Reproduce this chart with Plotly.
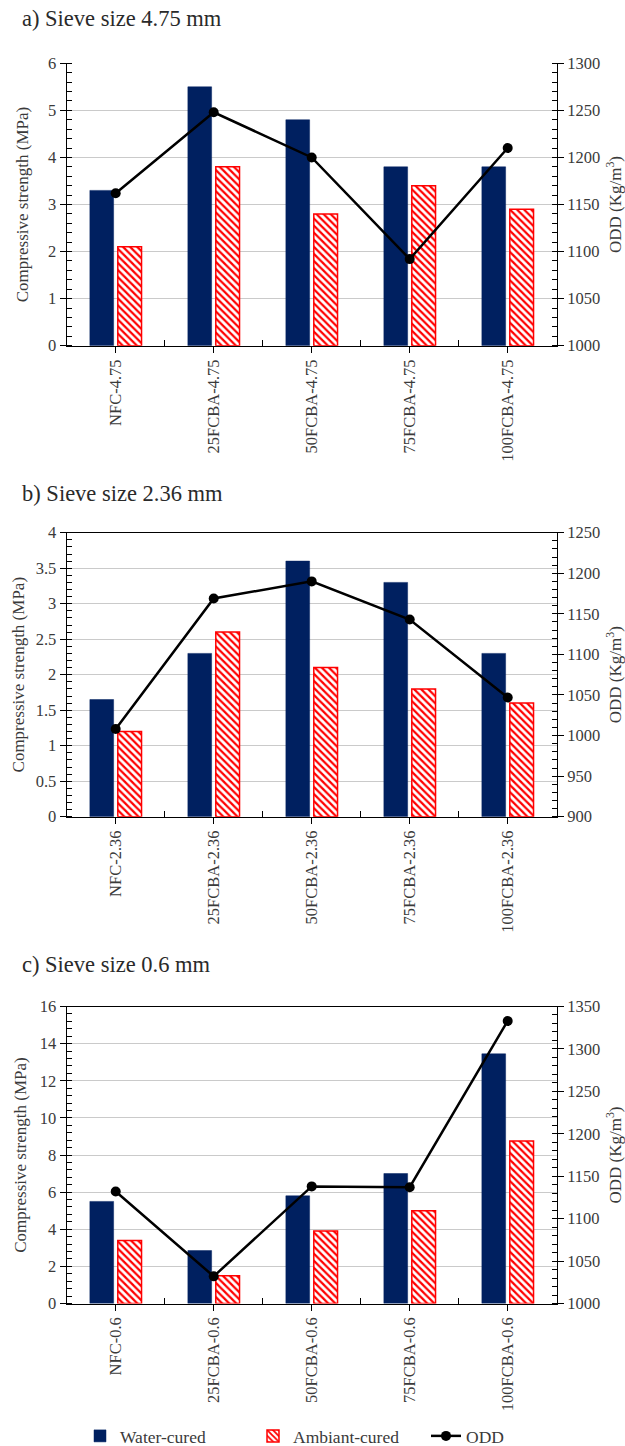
import plotly.graph_objects as go

W, H = 625, 1446

# ---- data -------------------------------------------------------------
categories_475 = ["NFC-4.75", "25FCBA-4.75", "50FCBA-4.75", "75FCBA-4.75", "100FCBA-4.75"]
water_475 = [3.3, 5.5, 4.8, 3.8, 3.8]
ambient_475 = [2.1, 3.8, 2.8, 3.4, 2.9]
odd_475 = [1162, 1248, 1200, 1092, 1210]

categories_236 = ["NFC-2.36", "25FCBA-2.36", "50FCBA-2.36", "75FCBA-2.36", "100FCBA-2.36"]
water_236 = [1.65, 2.3, 3.6, 3.3, 2.3]
ambient_236 = [1.2, 2.6, 2.1, 1.8, 1.6]
odd_236 = [1008, 1169, 1190, 1143, 1047]

categories_06 = ["NFC-0.6", "25FCBA-0.6", "50FCBA-0.6", "75FCBA-0.6", "100FCBA-0.6"]
water_06 = [5.5, 2.85, 5.8, 7.0, 13.45]
ambient_06 = [3.4, 1.5, 3.9, 5.0, 8.75]
odd_06 = [1132, 1032, 1138, 1137, 1333]

titles = ["a) Sieve size 4.75 mm", "b) Sieve size 2.36 mm", "c) Sieve size 0.6 mm"]
series_names = ["Water-cured", "Ambiant-cured", "ODD"]

# ---- styling / layout ---------------------------------------------------
FONT = "Liberation Serif, DejaVu Serif, serif"
TXT = "#3a3a3a"
NAVY = "#002060"
RED = "#ff0000"
GRID = "#cacaca"

X0, X1 = 66.7, 556.7            # plot area left/right (px)
panel_boxes = [(63.3, 345.7), (532.7, 816.7), (1006.5, 1303.5)]   # top/bottom (px)
title_y = [19, 493, 964]
left_axes = [dict(range=[0, 6], dtick=1, minor=0.2, standoff=15),
             dict(range=[0, 4], dtick=0.5, minor=0.1, standoff=6),
             dict(range=[0, 16], dtick=2, minor=0.4, standoff=8)]
right_axes = [dict(range=[1000, 1300]), dict(range=[900, 1250]), dict(range=[1000, 1350])]
top_border = [False, True, True]

datasets = [
    (categories_475, water_475, ambient_475, odd_475),
    (categories_236, water_236, ambient_236, odd_236),
    (categories_06, water_06, ambient_06, odd_06),
]


def fx(px):
    return px / W


def fy(py):
    return 1 - py / H


def axname(n):
    return "" if n == 1 else str(n)


fig = go.Figure()
layout = {}
annotations = []

for i, (cats, water, ambient, odd) in enumerate(datasets):
    na, nb = 2 * i + 1, 2 * i + 2
    xa, xb = "x" + axname(na), "x" + axname(nb)
    ya, yb = "y" + axname(na), "y" + axname(nb)
    show = i == 0

    fig.add_trace(go.Bar(
        x=cats, y=water, name=series_names[0], xaxis=xa, yaxis=ya,
        marker=dict(color=NAVY, line=dict(color=NAVY, width=0.5)),
        showlegend=show, legendrank=1,
    ))
    fig.add_trace(go.Bar(
        x=cats, y=ambient, name=series_names[1], xaxis=xa, yaxis=ya,
        marker=dict(color="white", line=dict(color=RED, width=1.5),
                    pattern=dict(shape="\\", fgcolor=RED, bgcolor="white",
                                 size=5, solidity=0.45, fillmode="replace")),
        showlegend=show, legendrank=2,
    ))
    fig.add_trace(go.Scatter(
        x=cats, y=odd, name=series_names[2], xaxis=xb, yaxis=yb,
        mode="lines+markers",
        line=dict(color="black", width=2.5),
        marker=dict(color="black", size=10),
        showlegend=show, legendrank=3,
    ))

    top, bottom = panel_boxes[i]
    ydom = [fy(bottom), fy(top)]
    tickfont = dict(family=FONT, size=16.5, color=TXT)
    titlefont = dict(family=FONT, size=17, color=TXT)

    layout["xaxis" + axname(na)] = dict(
        domain=[fx(X0), fx(X1)], anchor=ya, type="category",
        categoryorder="array", categoryarray=cats, range=[-0.5, 4.5],
        showline=True, linecolor="black", linewidth=1.3, mirror=top_border[i],
        ticks="outside", ticklen=6, tickcolor="black", tickwidth=1.2,
        tickangle=-90, tickfont=tickfont, showgrid=False, zeroline=False,
    )
    layout["xaxis" + axname(nb)] = dict(
        overlaying=xa, anchor=ya, side="bottom", type="category",
        categoryorder="array", categoryarray=cats, range=[-0.5, 4.5],
        tickson="boundaries", ticks="inside", ticklen=6, tickcolor="black",
        tickwidth=1.2, showticklabels=False, showline=False, showgrid=False,
        zeroline=False,
    )
    la = left_axes[i]
    layout["yaxis" + axname(na)] = dict(
        domain=ydom, anchor=xa, range=la["range"], dtick=la["dtick"],
        showgrid=True, gridcolor=GRID, gridwidth=1.3,
        showline=True, linecolor="black", linewidth=1.3, zeroline=False,
        ticks="outside", ticklen=6, tickcolor="black", tickwidth=1.2,
        minor=dict(dtick=la["minor"], ticks="inside", ticklen=5,
                   tickcolor="black", tickwidth=1, showgrid=False),
        tickfont=tickfont,
        title=dict(text="Compressive strength (MPa)", font=titlefont, standoff=la["standoff"]),
    )
    ra = right_axes[i]
    layout["yaxis" + axname(nb)] = dict(
        overlaying=ya, side="right", anchor=xa, range=ra["range"], dtick=50,
        showgrid=False, showline=True, linecolor="black", linewidth=1.3, zeroline=False,
        ticks="outside", ticklen=6, tickcolor="black", tickwidth=1.2,
        minor=dict(dtick=10, ticks="inside", ticklen=5, tickcolor="black",
                   tickwidth=1, showgrid=False),
        tickfont=tickfont,
        title=dict(text="ODD (Kg/m<sup>3</sup>)", font=titlefont, standoff=11),
    )

    annotations.append(dict(
        text=titles[i], xref="paper", yref="paper", x=fx(20), y=fy(title_y[i]),
        xanchor="left", yanchor="middle", showarrow=False,
        font=dict(family=FONT, size=22.5, color="#2a2a2a"),
    ))

fig.update_layout(
    width=W, height=H,
    margin=dict(l=0, r=0, t=0, b=0, autoexpand=False),
    paper_bgcolor="white", plot_bgcolor="white",
    barmode="group", bargap=0.43, bargroupgap=0.15,
    font=dict(family=FONT, color=TXT),
    annotations=annotations,
    legend=dict(orientation="h", x=fx(80), xanchor="left", y=fy(1436), yanchor="middle",
                font=dict(family=FONT, size=17.5, color=TXT), traceorder="normal",
                entrywidth=128, entrywidthmode="pixels", bgcolor="rgba(0,0,0,0)"),
    **layout,
)

fig.write_html("out.html")
